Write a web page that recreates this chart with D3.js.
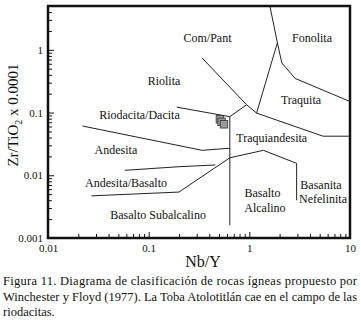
<!DOCTYPE html>
<html><head><meta charset="utf-8">
<script src="https://cdn.jsdelivr.net/npm/d3@7"></script>
<style>
html,body{margin:0;padding:0;background:#fff;}
svg{display:block;}
text{font-family:"Liberation Serif","Times New Roman",serif;fill:#111;}
</style></head>
<body>
<svg id="c" width="361" height="322"></svg>
<script>
// ---- data (Nb/Y , Zr/TiO2 x 0.0001) ----
const xTicks = [0.01, 0.1, 1, 10];
const yTicks = [0.001, 0.01, 0.1, 1];
const xTickLabels = ["0.01", "0.1", "1", "10"];
const yTickLabels = ["0.001", "0.01", "0.1", "1"];

// field boundary polylines
const boundaries = [
  [[1.6, 5], [1.9, 1.3], [2.1, 0.62], [2.85, 0.35], [10, 0.15]],
  [[1.9, 1.3], [1.18, 0.098]],
  [[1.18, 0.098], [5.4, 0.042], [10, 0.042]],
  [[0.34, 0.74], [0.94, 0.133], [1.18, 0.098]],
  [[0.94, 0.133], [0.64, 0.086]],
  [[0.19, 0.122], [0.64, 0.086]],
  [[0.64, 0.086], [0.64, 0.0016]],
  [[0.022, 0.061], [0.34, 0.025], [0.64, 0.027]],
  [[0.058, 0.012], [0.2, 0.0137], [0.46, 0.0146]],
  [[0.027, 0.0047], [0.2, 0.0054], [0.64, 0.019]],
  [[0.64, 0.019], [1.38, 0.025], [2.95, 0.0155]],
  [[2.95, 0.0155], [2.95, 0.004]]
];

// field names and their anchor (centre, baseline) in data units
const fieldNames = ["Com/Pant", "Fonolita", "Riolita", "Traquita", "Riodacita/Dacita",
  "Traquiandesita", "Andesita", "Andesita/Basalto", "Basalto Subalcalino",
  "Basalto", "Alcalino", "Basanita", "Nefelinita"];
const fieldX = [0.384, 4.19, 0.142, 3.26, 0.081, 1.67, 0.0473, 0.0596, 0.124, 1.35, 1.43, 5.15, 5.39];
const fieldY = [1.35, 1.35, 0.277, 0.138, 0.0793, 0.034, 0.0218, 0.00647, 0.00199, 0.00448, 0.00258, 0.0060, 0.00359];

// samples of Toba Atolotitlán
const sampleNbY = [0.51, 0.53, 0.56];
const sampleZrTi = [0.078, 0.071, 0.065];

const caption = [
  "Figura 11. Diagrama de clasificación de rocas ígneas propuesto por",
  "Winchester y Floyd (1977). La Toba Atolotitlán cae en el campo de las",
  "riodacitas."
];

// ---- drawing ----
const FONT = '"Liberation Serif","Times New Roman",serif';
const svg = d3.select("#c");
const x = d3.scaleLog().domain([0.01, 10]).range([48, 350]);
const y = d3.scaleLog().domain([0.001, 5]).range([238, 6]);

function minors(lo, hi) {
  const out = [];
  for (let e = Math.floor(Math.log10(lo)); e <= Math.ceil(Math.log10(hi)); e++)
    for (let m = 2; m <= 9; m++) { const v = m * Math.pow(10, e); if (v > lo && v < hi) out.push(v); }
  return out;
}

function styleAxis(g) {
  g.attr("font-family", FONT);
  g.select(".domain").remove();
  g.selectAll("line").attr("stroke", "#111");
  g.selectAll("text").attr("font-size", 11).attr("font-family", FONT).attr("fill", "#111");
}

// minor ticks
svg.append("g").attr("transform", `translate(${x.range()[0]},0)`)
  .call(d3.axisLeft(y).tickValues(minors(0.001, 5)).tickSize(-4).tickFormat(""))
  .call(styleAxis);
svg.append("g").attr("transform", `translate(0,${y.range()[0]})`)
  .call(d3.axisBottom(x).tickValues(minors(0.01, 10)).tickSize(-4).tickFormat(""))
  .call(styleAxis);

// major ticks + labels
svg.append("g").attr("transform", `translate(${x.range()[0]},0)`)
  .call(d3.axisLeft(y).tickValues(yTicks).tickSize(-6).tickPadding(5)
    .tickFormat((d, i) => yTickLabels[i]))
  .call(styleAxis);
svg.append("g").attr("transform", `translate(0,${y.range()[0]})`)
  .call(d3.axisBottom(x).tickValues(xTicks).tickSize(-6).tickPadding(6)
    .tickFormat((d, i) => xTickLabels[i]))
  .call(styleAxis);

// boundaries
const line = d3.line().x(d => x(d[0])).y(d => y(d[1]));
svg.append("g").selectAll("path").data(boundaries).join("path")
  .attr("d", line).attr("fill", "none").attr("stroke", "#222").attr("stroke-width", 1);

// frame
svg.append("rect")
  .attr("x", x.range()[0]).attr("y", y.range()[1])
  .attr("width", x.range()[1] - x.range()[0]).attr("height", y.range()[0] - y.range()[1])
  .attr("fill", "none").attr("stroke", "#111").attr("stroke-width", 2.5);

// field labels
svg.append("g").selectAll("text").data(fieldNames).join("text")
  .attr("x", (d, i) => x(fieldX[i])).attr("y", (d, i) => y(fieldY[i]))
  .attr("text-anchor", "middle").attr("font-size", 12).attr("font-family", FONT).text(d => d);

// samples
const sq = 7.5;
svg.append("g").selectAll("rect").data(sampleNbY).join("rect")
  .attr("x", (d, i) => x(d) - sq / 2).attr("y", (d, i) => y(sampleZrTi[i]) - sq / 2)
  .attr("width", sq).attr("height", sq)
  .attr("fill", "#9a9a9a").attr("stroke", "#333").attr("stroke-width", 0.8);

// axis titles
svg.append("text").attr("x", (x.range()[0] + x.range()[1]) / 2 + 4).attr("y", 267)
  .attr("text-anchor", "middle").attr("font-size", 16).attr("font-family", FONT).text("Nb/Y");
const yt = svg.append("text").attr("transform", "translate(18,115) rotate(-90)")
  .attr("text-anchor", "middle").attr("font-size", 15).attr("font-family", FONT);
yt.append("tspan").text("Zr/TiO");
yt.append("tspan").attr("font-size", 10).attr("dy", 4).text("2");
yt.append("tspan").attr("dy", -4).text(" x 0.0001");

// caption
svg.append("g").selectAll("text").data(caption).join("text")
  .attr("x", 3).attr("y", (d, i) => 285 + i * 15.5)
  .attr("font-size", 12.5).attr("font-family", FONT)
  .attr("textLength", (d, i) => i < 2 ? 354 : null)
  .attr("lengthAdjust", "spacing")
  .text(d => d);
</script>
</body></html>
